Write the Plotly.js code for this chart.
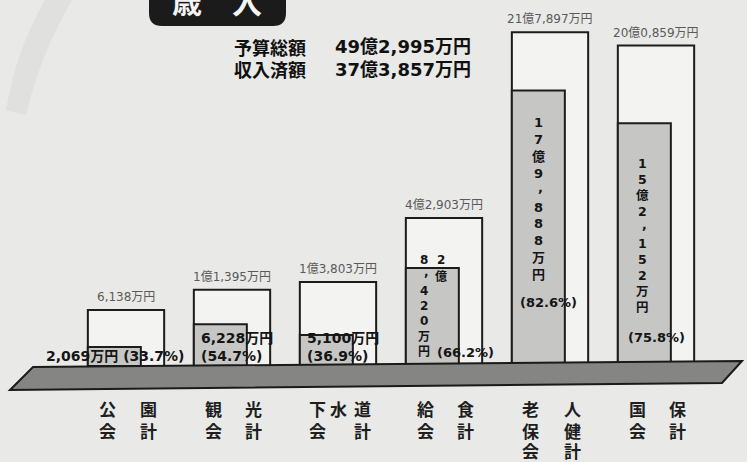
<!DOCTYPE html>
<html><head><meta charset="utf-8">
<script src="https://cdn.plot.ly/plotly-3.0.1.min.js"></script>
<style>html,body{margin:0;padding:0;background:#e9e9e7;}#chart{width:747px;height:462px;}</style>
</head><body><div id="chart"></div>
<script>
// ---- data (万円) ----
const categories = ['公園会計','観光会計','下水道会計','給食会計','老人保健会計','国保会計'];
const labelColumns = [['公会','園計'],['観会','光計'],['下会','水','道計'],['給会','食計'],['老保会','人健計'],['国会','保計']];
const budget   = [6138, 11395, 13803, 42903, 217897, 200859];
const received = [2069, 6228, 5100, 28420, 179888, 152152];
const rates    = [33.7, 54.7, 36.9, 66.2, 82.6, 75.8];

function fmt(v){
  const oku = Math.floor(v/10000), man = v % 10000;
  let s;
  if (oku > 0) { const p = String(man).padStart(4,'0'); s = oku + '億' + p[0] + ',' + p.slice(1); }
  else { const m = String(man); s = m.length > 3 ? m.slice(0,-3) + ',' + m.slice(-3) : m; }
  return s + '万円';
}
const totalBudget = budget.reduce((a,b)=>a+b,0);
const totalReceived = received.reduce((a,b)=>a+b,0);

// illustrative (square-root) height scale as in the original drawing
const outerH = budget.map(v => Math.sqrt(v));
const innerH = budget.map((v,i) => Math.sqrt(v) * received[i] / v);

// ---- layout helpers ----
const W = 747, H = 462;
const P = (x,y) => (x/W).toFixed(5) + ',' + (1 - y/H).toFixed(5);
const NUMFONT = 'DejaVu Sans, Noto Sans CJK JP, sans-serif';
const JPFONT = 'Noto Sans CJK JP, sans-serif';

const outer = {type:'bar', x:categories, y:outerH, width:0.72, offset:-0.36,
  marker:{color:'#f3f3f1', line:{color:'#1c1c1c', width:2}}, hoverinfo:'skip'};
const inner = {type:'bar', x:categories, y:innerH, width:0.5, offset:-0.36,
  marker:{color:'#c6c6c4', line:{color:'#1c1c1c', width:2}}, hoverinfo:'skip'};

const ann = [];
function txt(s, px, py, font, extra){
  ann.push(Object.assign({x:px/W, y:1-py/H, xref:'paper', yref:'paper', xanchor:'center', yanchor:'middle',
    showarrow:false, text:s, font:font}, extra||{}));
}
function vtxt(s, px, pyStart, step, font){
  Array.from(s).forEach((ch,j)=> txt(ch, px + (ch === ',' ? 2 : 0), pyStart + j*step + (ch === ',' ? -3 : 0), font));
}

// budget labels above the outer bars
categories.forEach((c,i)=>{
  ann.push({x:c, y:outerH[i], xref:'x', yref:'y', text:fmt(budget[i]), showarrow:false,
    yanchor:'bottom', yshift:4, font:{family:NUMFONT, size:12, color:'#5a5a5a'}});
});
const inFont = s => ({family:NUMFONT, size:s, color:'#151515', weight:'bold'});
// 公園
ann.push({x:categories[0], y:0, xref:'x', yref:'y', showarrow:false, yanchor:'bottom', xshift:-11,
  text: fmt(received[0]) + ' (' + rates[0] + '%)', font:inFont(14)});
// 観光, 下水道
[1,2].forEach(i=>{
  ann.push({x:categories[i], y:0, xref:'x', yref:'y', showarrow:false, yanchor:'bottom', xanchor:'left', align:'left',
    xshift:-33, text: fmt(received[i]) + '<br>(' + rates[i] + '%)', font:inFont(14)});
});
// 給食 (vertical, two columns split at 億)
{
  const s = fmt(received[3]); const k = s.indexOf('億') + 1;
  vtxt(s.slice(k), 424, 260, 15.3, inFont(12));
  vtxt(s.slice(0,k), 441, 260, 16, inFont(12));
  txt('(' + rates[3] + '%)', 465, 352, inFont(13));
}
// 老人保健, 国保 (vertical single column)
vtxt(fmt(received[4]), 538, 123, 16.8, inFont(13));
txt('(' + rates[4] + '%)', 548, 302, inFont(13));
vtxt(fmt(received[5]), 642, 163, 16.1, inFont(12.5));
txt('(' + rates[5] + '%)', 656, 337, inFont(13));

// category labels (columns of characters)
const colX = [[107,148],[213,253],[317,338,362],[425,465],[530,572],[637,677]];
const rowY = [408, 430, 450];
labelColumns.forEach((cols,i)=>{
  cols.forEach((col,j)=>{
    Array.from(col).forEach((ch,r)=> txt(ch, colX[i][j], rowY[r], {family:JPFONT, size:17, color:'#1e1e1e', weight:'bold'}));
  });
});
// summary
const sumLab = {family:JPFONT, size:18, color:'#111', weight:'bold'};
const sumVal = {family:'DejaVu Sans, Noto Sans CJK JP', size:18, color:'#111', weight:'bold'};
txt('予算総額', 232, 47, sumLab, {xanchor:'left'});
txt('収入済額', 232, 69, sumLab, {xanchor:'left'});
txt(fmt(totalBudget), 473, 47, sumVal, {xanchor:'right'});
txt(fmt(totalReceived), 473, 69, sumVal, {xanchor:'right'});
// title
txt('歳　入', 217, 0, {family:JPFONT, size:30, color:'#f4f4f4', weight:'bold'});

const shapes = [
  {type:'path', xref:'paper', yref:'paper', layer:'below', line:{width:0}, fillcolor:'#e0e0de',
    path:'M'+P(45,0)+' L'+P(72,0)+' Q'+P(40,55)+' '+P(26,115)+' L'+P(6,110)+' Q'+P(16,50)+' '+P(45,0)+' Z'},
  {type:'path', xref:'paper', yref:'paper', layer:'above', line:{color:'#1a1a1a', width:2}, fillcolor:'#858583',
    path:'M'+P(33,367)+' L'+P(742,361)+' L'+P(722,383)+' L'+P(10,390)+' Z'},
  {type:'path', xref:'paper', yref:'paper', layer:'above', line:{width:0}, fillcolor:'#1b1b1b',
    path:'M'+P(149,-5)+' L'+P(149,13)+' Q'+P(149,26)+' '+P(162,26)+' L'+P(273,26)+' Q'+P(286,26)+' '+P(286,13)+' L'+P(286,-5)+' Z'}
];

const kpx = 0.715; // px per scale unit
const layout = {
  width:W, height:H, margin:{l:0,r:0,t:0,b:0,pad:0},
  paper_bgcolor:'#e9e9e7', plot_bgcolor:'rgba(0,0,0,0)',
  barmode:'overlay', showlegend:false,
  xaxis:{type:'category', range:[-126/106, (W-126)/106], visible:false, fixedrange:true},
  yaxis:{range:[-(H-366)/kpx, 366/kpx], visible:false, fixedrange:true},
  annotations:ann, shapes:shapes
};
Plotly.newPlot('chart', [outer, inner], layout, {staticPlot:true, displayModeBar:false});
</script></body></html>
